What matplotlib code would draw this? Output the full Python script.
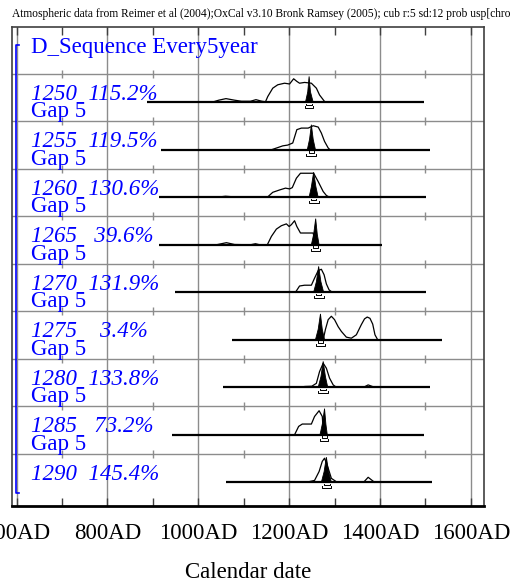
import matplotlib.pyplot as plt

plt.rcParams['font.family'] = ['Liberation Serif', 'DejaVu Serif']

# OxCal D_Sequence, one row per date
labels = [1250, 1255, 1260, 1265, 1270, 1275, 1280, 1285, 1290]
agreement = [115.2, 119.5, 130.6, 39.6, 131.9, 3.4, 133.8, 73.2, 145.4]
gap = 5

# extent of the baseline drawn for each row (calendar years)
span_start = [888, 918, 914, 914, 949, 1074, 1054, 942, 1060]
span_end = [1496, 1510, 1502, 1404, 1502, 1536, 1510, 1496, 1515]

# unmodelled (likelihood) distributions, relative probability
prior_x = [
    [1030, 1045, 1061, 1080, 1095, 1115, 1127, 1140, 1148, 1153, 1164, 1175, 1190, 1201,
     1210, 1217, 1223, 1234, 1249, 1260, 1267, 1278, 1285],
    [1161, 1186, 1197, 1208, 1217, 1227, 1242, 1253, 1264, 1271, 1278, 1286, 1290],
    [1040, 1060, 1075, 1090, 1152, 1164, 1179, 1192, 1201, 1207, 1216, 1225, 1238, 1254,
     1264, 1275, 1282, 1289],
    [1040, 1062, 1080, 1115, 1126, 1135, 1152, 1161, 1172, 1183, 1194, 1200, 1205, 1212,
     1217, 1225, 1238, 1253, 1258],
    [1214, 1223, 1234, 1249, 1256, 1264, 1271, 1277, 1282, 1288, 1295, 1395, 1401, 1408],
    [1275, 1280, 1286, 1293, 1300, 1308, 1315, 1326, 1337, 1348, 1359, 1366, 1372, 1378,
     1384, 1389, 1395],
    [1220, 1235, 1250, 1260, 1267, 1275, 1282, 1289, 1297, 1304, 1364, 1374, 1388],
    [1212, 1221, 1229, 1249, 1256, 1266, 1273, 1276],
    [1238, 1256, 1266, 1273, 1278, 1286, 1293, 1304, 1310, 1364, 1374, 1388],
]
prior_p = [
    [0, .08, .14, .08, .04, .04, .10, .04, .02, .22, .54, .67, .73, .70,
     .90, .80, .73, .76, .73, .54, .28, .03, 0],
    [0, .15, .18, .26, .77, .83, .83, .92, .87, .64, .32, .07, 0],
    [0, .04, .02, 0, 0, .19, .28, .35, .32, .37, .73, .92, .92, .92,
     .60, .22, .07, 0],
    [0, .08, .01, 0, .04, 0, 0, .32, .60, .73, .80, .70, .77, .92,
     .70, .45, .45, .45, 0],
    [0, .24, .27, .27, .54, .83, .88, .67, .32, .09, 0, 0, .03, 0],
    [0, .40, .77, .90, .77, .50, .32, .10, .06, .19, .58, .80, .87, .82,
     .60, .19, 0],
    [0, .03, .04, .15, .60, .92, .73, .35, .09, 0, 0, .09, 0],
    [0, .32, .41, .41, .70, .92, .70, 0],
    [0, .07, .41, .80, .92, .54, .15, .02, 0, 0, .19, 0],
]

# modelled (posterior) distributions
post_x = [
    [1236, 1241, 1244, 1247, 1253],
    [1240, 1245, 1249, 1253, 1258],
    [1244, 1249, 1254, 1259, 1264],
    [1249, 1254, 1258.5, 1262, 1266],
    [1254, 1260, 1265, 1270, 1276],
    [1258, 1264, 1269, 1273, 1278],
    [1264, 1270, 1275, 1280, 1285],
    [1268, 1273, 1278, 1281, 1284],
    [1271, 1277, 1282, 1287, 1293],
]
post_p = [
    [0, .4, .99, .4, 0],
    [0, .4, .96, .4, 0],
    [0, .4, .96, .4, 0],
    [0, .4, 1.0, .4, 0],
    [0, .4, .99, .4, 0],
    [0, .4, .99, .4, 0],
    [0, .4, .99, .4, 0],
    [0, .4, 1.0, .4, 0],
    [0, .4, .96, .4, 0],
]

# highest posterior density ranges
range68 = [(1238, 1250), (1243, 1255), (1248, 1260), (1253, 1263), (1259, 1271),
           (1263, 1275), (1269, 1281), (1272, 1283), (1276, 1289)]
range95 = [(1234, 1253), (1238, 1260), (1244, 1265), (1249, 1267), (1254, 1276),
           (1259, 1279), (1264, 1285), (1268, 1286), (1272, 1293)]

major_years = [600, 800, 1000, 1200, 1400, 1600]
minor_years = [700, 900, 1100, 1300, 1500]

hscale = 0.55
blue = '#0000ff'

fig = plt.figure(figsize=(5.2, 5.83), dpi=100)
ax = fig.add_axes([12 / 520, 77 / 583, 472 / 520, 479 / 583])
ax.set_xlim(590, 1629)
ax.set_ylim(9.5, -0.585)

rows = range(1, len(labels) + 1)
grid_y = [r - 0.6 for r in rows]
ax.set_yticks(grid_y)
ax.set_yticklabels([])
ax.tick_params(axis='y', length=0)
ax.set_xticks(major_years)
ax.set_xticklabels([f'{y}AD' for y in major_years], fontsize=16.5)
ax.set_xticks(minor_years, minor=True)
ax.tick_params(axis='x', which='both', direction='in', top=True, length=6,
               width=1, color='#404040', pad=12)
ax.grid(True, which='major', color='#8c8c8c', lw=1)
for gy in grid_y:
    ax.plot(minor_years, [gy] * len(minor_years), ls='none', marker='|',
            ms=6, mew=1, color='#8c8c8c')

for s in ax.spines.values():
    s.set_color('#404040')
    s.set_linewidth(1.2)
ax.spines['bottom'].set_color('black')
ax.spines['bottom'].set_linewidth(2)

tr = ax.get_yaxis_transform()
for i, r in enumerate(rows):
    ax.plot([span_start[i], span_end[i]], [r, r], color='black', lw=1.6,
            solid_capstyle='butt')
    ax.plot(prior_x[i], [r - p * hscale for p in prior_p[i]], color='black', lw=0.9)
    ax.fill(post_x[i], [r - p * hscale for p in post_p[i]], color='black', lw=0.6)
    a, b = range68[i]
    ax.plot([a, a, b, b], [r + 0.035, r + 0.065, r + 0.065, r + 0.035],
            color='black', lw=0.7)
    a, b = range95[i]
    ax.plot([a, a, b, b], [r + 0.08, r + 0.13, r + 0.13, r + 0.08],
            color='black', lw=0.7)

    ax.text(19 / 472, r - 0.05, f'{labels[i]}  {agreement[i]:5.1f}%', transform=tr,
            color=blue, fontsize=16.5, style='italic', va='baseline')
    if i < len(labels) - 1:
        ax.text(19 / 472, r + 0.32, f'Gap {gap}', transform=tr, color=blue,
                fontsize=16.5, va='baseline')

ax.text(19 / 472, -0.03, 'D_Sequence Every5year', transform=tr, color=blue,
        fontsize=16.5, va='baseline')
bx = 3.5 / 472
ax.plot([7 / 472, bx, bx, 7 / 472], [-0.206, -0.206, 9.225, 9.225], transform=tr,
        color=blue, lw=1.2, clip_on=False)

ax.set_xlabel('Calendar date', fontsize=16.5, labelpad=13)

fig.text(12 / 520, 1 - 17 / 583,
         'Atmospheric data from Reimer et al (2004);OxCal v3.10 Bronk Ramsey (2005); '
         'cub r:5 sd:12 prob usp[chro', fontsize=8.3, va='baseline')

fig.savefig('out.png', dpi=100)
